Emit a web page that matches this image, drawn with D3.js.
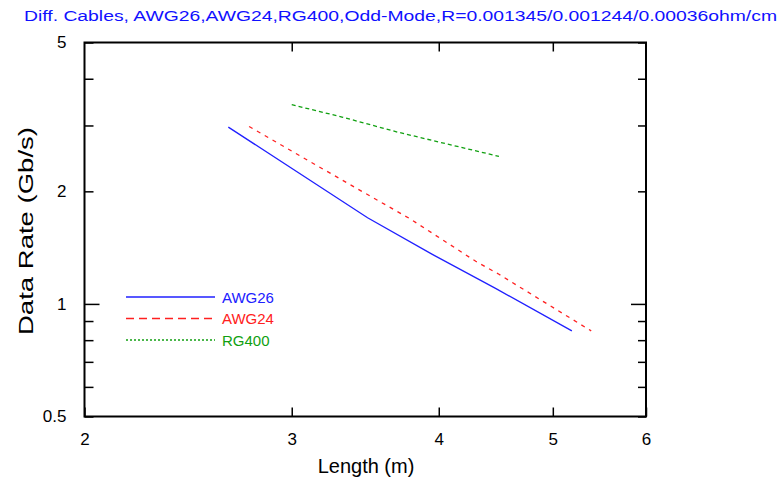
<!DOCTYPE html>
<html>
<head>
<meta charset="utf-8">
<script src="https://cdn.jsdelivr.net/npm/d3@7"></script>
<style>
  body { margin: 0; background: #fff; }
  svg { display: block; }
  .axis text { font-family: "Liberation Sans", "DejaVu Sans", sans-serif; font-size: 17px; fill: #000; }
  .axis line { stroke: #000; stroke-width: 1.5; }
  .axis path { display: none; }
</style>
</head>
<body>
<div id="chart"></div>
<script>
// series data (length in m, data rate in Gb/s)
const awg26Len  = [2.65, 3.48, 3.95, 4.47, 5.19];
const awg26Rate = [2.97, 1.70, 1.357, 1.10, 0.847];
const awg24Len  = [2.76, 3.34, 3.78, 4.30, 4.50, 4.87, 5.39];
const awg24Rate = [2.98, 2.11, 1.69, 1.30, 1.20, 1.03, 0.847];
const rg400Len  = [3.00, 3.31, 3.69, 4.50];
const rg400Rate = [3.41, 3.16, 2.88, 2.48];

const xTicks = [2, 3, 4, 5, 6];
const yTicks = [0.5, 0.6, 0.7, 0.8, 0.9, 1, 2, 3, 4, 5];
const yLabels = [0.5, 1, 2, 5];

const series = [
  {name: "AWG26", len: awg26Len, rate: awg26Rate, color: "#2020ff", dash: null},
  {name: "AWG24", len: awg24Len, rate: awg24Rate, color: "#ff2020", dash: "4,5"},
  {name: "RG400", len: rg400Len, rate: rg400Rate, color: "#10a010", dash: "4,3"}
];

const W = 784, H = 481;
const pLeft = 84.5, pRight = 646, pTop = 42.5, pBottom = 416.5;

const svg = d3.select("#chart").append("svg")
  .attr("width", W).attr("height", H);

const x = d3.scaleLog().domain([2, 6]).range([pLeft, pRight]);
const y = d3.scaleLog().domain([0.5, 5]).range([pBottom, pTop]);

// title
svg.append("text")
  .attr("x", 24).attr("y", 21)
  .attr("textLength", 753).attr("lengthAdjust", "spacingAndGlyphs")
  .style("font-family", "'Liberation Sans', 'DejaVu Sans', sans-serif")
  .style("font-size", "14px")
  .style("fill", "#1010ff")
  .text("Diff. Cables, AWG26,AWG24,RG400,Odd-Mode,R=0.001345/0.001244/0.00036ohm/cm");

// axes
svg.append("g").attr("class", "axis")
  .attr("transform", "translate(0," + pBottom + ")")
  .call(d3.axisBottom(x).tickValues(xTicks).tickSize(-9).tickPadding(16).tickFormat(d3.format("d")));
svg.append("g").attr("class", "axis")
  .attr("transform", "translate(0," + pTop + ")")
  .call(d3.axisTop(x).tickValues([3, 4, 5]).tickSize(-9).tickFormat(""));

let yl = svg.append("g").attr("class", "axis")
  .attr("transform", "translate(" + pLeft + ",0)")
  .call(d3.axisLeft(y).tickValues(yTicks).tickSize(-9).tickPadding(18)
    .tickFormat(d => yLabels.includes(d) ? d : ""));
yl.selectAll(".tick line").attr("x2", d => d === 1 ? 15 : 9);

let yr = svg.append("g").attr("class", "axis")
  .attr("transform", "translate(" + pRight + ",0)")
  .call(d3.axisRight(y).tickValues(yTicks).tickSize(-9).tickFormat(""));
yr.selectAll(".tick line").attr("x2", d => d === 1 ? -15 : -8);

// frame
svg.append("rect")
  .attr("x", pLeft).attr("y", pTop)
  .attr("width", pRight - pLeft).attr("height", pBottom - pTop)
  .attr("fill", "none").attr("stroke", "#000").attr("stroke-width", 2);

// lines
const line = d3.line().x(d => x(d[0])).y(d => y(d[1]));
series.forEach(s => {
  svg.append("path")
    .datum(s.len.map((v, i) => [v, s.rate[i]]))
    .attr("d", line)
    .attr("fill", "none")
    .attr("stroke", s.color)
    .attr("stroke-width", 1.3)
    .attr("stroke-dasharray", s.dash);
});

// legend
const legend = svg.append("g");
series.forEach((s, i) => {
  let ly = 297 + i * 21.5;
  legend.append("line")
    .attr("x1", 126).attr("x2", 215).attr("y1", ly).attr("y2", ly)
    .attr("stroke", s.color).attr("stroke-width", 1.3)
    .attr("stroke-dasharray", i === 1 ? "8,5" : i === 2 ? "2,2" : null);
  legend.append("text")
    .attr("x", 222).attr("y", ly + 5.5)
    .style("font-family", "'Liberation Sans', 'DejaVu Sans', sans-serif")
    .style("font-size", "15px")
    .style("fill", s.color)
    .text(s.name);
});

// axis titles
svg.append("text")
  .attr("x", 366).attr("y", 473)
  .attr("text-anchor", "middle")
  .style("font-family", "'Liberation Sans', 'DejaVu Sans', sans-serif")
  .style("font-size", "20px")
  .text("Length (m)");
svg.append("text")
  .attr("transform", "translate(33,231) rotate(-90)")
  .attr("text-anchor", "middle")
  .style("font-family", "'Liberation Sans', 'DejaVu Sans', sans-serif")
  .style("font-size", "20px")
  .attr("textLength", 208).attr("lengthAdjust", "spacingAndGlyphs")
  .text("Data Rate (Gb/s)");
</script>
</body>
</html>
